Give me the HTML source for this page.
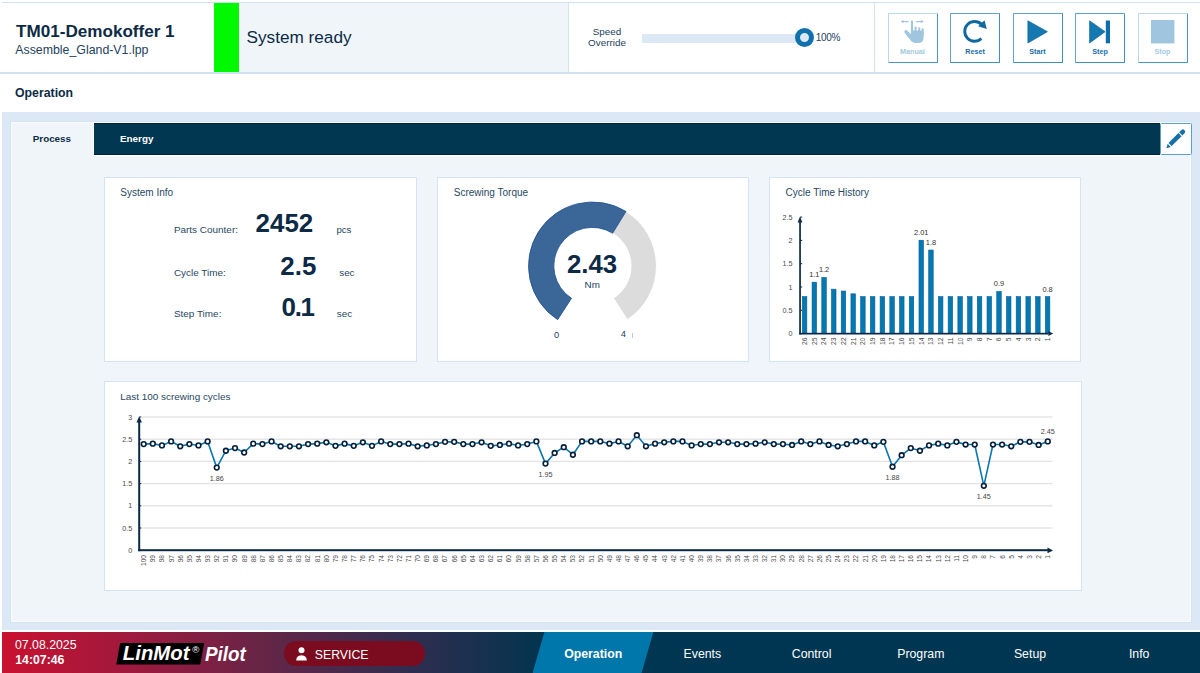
<!DOCTYPE html>
<html><head><meta charset="utf-8"><title>LinMot Pilot</title>
<style>
*{margin:0;padding:0;box-sizing:border-box}
html,body{width:1200px;height:673px;overflow:hidden;background:#fff;font-family:"Liberation Sans",Arial,sans-serif;color:#0c2b47}
.a{position:absolute}
.t{position:absolute;line-height:1;white-space:nowrap}
svg text{font-family:"Liberation Sans",Arial,sans-serif}
</style></head><body>
<div class="a" style="left:2px;top:2px;width:1198px;height:1px;background:#cfe0f1"></div>
<div class="a" style="left:239px;top:3px;width:329px;height:69px;background:#f0f5fa"></div>
<div class="a" style="left:214px;top:3px;width:25px;height:69px;background:#00f800"></div>
<div class="a" style="left:568px;top:3px;width:1px;height:69px;background:#d3e3f3"></div>
<div class="a" style="left:874px;top:3px;width:1px;height:69px;background:#d3e3f3"></div>
<div class="a" style="left:0px;top:72px;width:1200px;height:1.5px;background:#cfe0f1"></div>
<div class="t" style="left:16.00px;top:22.82px;font-size:17.1px;font-weight:bold;color:#0c2a45;">TM01-Demokoffer 1</div>
<div class="t" style="left:15.25px;top:43.75px;font-size:12.35px;color:#1d4160;">Assemble_Gland-V1.lpp</div>
<div class="t" style="left:246.50px;top:29.24px;font-size:17.2px;color:#0c2a45;">System ready</div>
<div class="t" style="left:507.00px;width:200px;text-align:center;top:27.12px;font-size:9.9px;color:#1d4160;">Speed</div>
<div class="t" style="left:507.00px;width:200px;text-align:center;top:38.12px;font-size:9.9px;color:#1d4160;">Override</div>
<div class="a" style="left:641.5px;top:33.5px;width:160px;height:9px;background:#dce8f5"></div>
<div class="a" style="left:795px;top:28.3px;width:19.2px;height:19.2px;border-radius:50%;border:5px solid #0f72ad;background:#dce8f5"></div>
<div class="t" style="left:815.80px;top:32.73px;font-size:10px;color:#1d4160;letter-spacing:-0.3px;">100%</div>
<div class="a" style="left:887.5px;top:12.5px;width:50px;height:50px;border:1.5px solid;border-color:#bcd9ec #4796c9 #4796c9 #bcd9ec;border-radius:1px;background:#fff"></div><svg class="a" style="left:887.5px;top:12.5px" width="50" height="50" viewBox="0 0 50 50"><g transform="translate(-0.45,-0.3)"><g fill="#9fc6de">
<rect x="23.4" y="7.7" width="2.1" height="16" rx="1.05"/>
<rect x="27.0" y="13.8" width="2.0" height="8" rx="1"/>
<rect x="30.7" y="14.6" width="2.0" height="8" rx="1"/>
<rect x="34.1" y="15.5" width="1.9" height="8" rx="0.95"/>
<path d="M23.4,17.8 L36.0,17.8 L36.0,25 Q35.9,30.3 30.5,30.3 L27.6,30.3 Q25.4,30.3 23.8,28.6 L17.2,20.2 Q16.3,18.6 17.4,17.6 Q18.6,16.8 19.8,18 L23.4,21.6 Z"/>
<path d="M13.2,8.9 L15.9,7.3 L15.9,10.5 Z M36.3,8.9 L33.6,7.3 L33.6,10.5 Z"/>
</g>
<g stroke="#9fc6de" stroke-width="1.1" fill="none"><path d="M15,8.9 h6 M28.3,8.9 h6"/></g></g></svg><div class="t" style="left:812.50px;width:200px;text-align:center;top:48.41px;font-size:7.2px;font-weight:bold;color:#a3c9e0;">Manual</div>
<div class="a" style="left:950px;top:12.5px;width:50px;height:50px;border:1.5px solid;border-color:#5fa4d0 #3d8fc6 #3d8fc6 #5fa4d0;border-radius:1px;background:#fff"></div><svg class="a" style="left:950px;top:12.5px" width="50" height="50" viewBox="0 0 50 50"><path d="M31.4,25.6 A9.9,9.9 0 1 1 31.65,11.35" fill="none" stroke="#1168a0" stroke-width="2.9"/>
<path d="M28.1,13.3 L34.5,7.3 L36.8,16.0 Z" fill="#1168a0"/></svg><div class="t" style="left:875.00px;width:200px;text-align:center;top:48.41px;font-size:7.2px;font-weight:bold;color:#1a6ea5;">Reset</div>
<div class="a" style="left:1012.5px;top:12.5px;width:50px;height:50px;border:1.5px solid;border-color:#5fa4d0 #3d8fc6 #3d8fc6 #5fa4d0;border-radius:1px;background:#fff"></div><svg class="a" style="left:1012.5px;top:12.5px" width="50" height="50" viewBox="0 0 50 50"><path d="M14.9,7.8 L34.4,18.7 L14.9,30 Z" fill="#1479b0" stroke="#0b68a6" stroke-width="0.7" stroke-linejoin="round"/></svg><div class="t" style="left:937.50px;width:200px;text-align:center;top:48.41px;font-size:7.2px;font-weight:bold;color:#1a6ea5;">Start</div>
<div class="a" style="left:1075px;top:12.5px;width:50px;height:50px;border:1.5px solid;border-color:#5fa4d0 #3d8fc6 #3d8fc6 #5fa4d0;border-radius:1px;background:#fff"></div><svg class="a" style="left:1075px;top:12.5px" width="50" height="50" viewBox="0 0 50 50"><path d="M14.6,7.8 L30.1,18.7 L14.6,30 Z" fill="#1479b0" stroke="#0b68a6" stroke-width="0.7" stroke-linejoin="round"/><rect x="30.8" y="7.5" width="4.2" height="22.8" fill="#0f6fa8"/></svg><div class="t" style="left:1000.00px;width:200px;text-align:center;top:48.41px;font-size:7.2px;font-weight:bold;color:#1a6ea5;">Step</div>
<div class="a" style="left:1137.5px;top:12.5px;width:50px;height:50px;border:1.5px solid;border-color:#bcd9ec #4796c9 #4796c9 #bcd9ec;border-radius:1px;background:#fff"></div><svg class="a" style="left:1137.5px;top:12.5px" width="50" height="50" viewBox="0 0 50 50"><rect x="13.0" y="7.0" width="23.4" height="23.4" fill="#9fc6de"/></svg><div class="t" style="left:1062.50px;width:200px;text-align:center;top:48.41px;font-size:7.2px;font-weight:bold;color:#a3c9e0;">Stop</div>
<div class="t" style="left:15.00px;top:86.69px;font-size:12.3px;font-weight:bold;color:#0c2a45;">Operation</div>
<div class="a" style="left:1.5px;top:112px;width:1198.5px;height:517.8px;background:#dce8f5"></div>
<div class="a" style="left:9.6px;top:121.3px;width:1182.6px;height:502px;background:#f0f5fa;border:1px solid #d4e3f3;box-shadow:inset 0 0 0 1px #f9fbfd"></div>
<div class="a" style="left:93px;top:122px;width:1068px;height:34px;background:#013751;border:1px solid #fff;box-shadow:inset 0 1px 0 #01223c,inset 0 -1px 0 #01223c"></div>
<div class="t" style="left:32.80px;top:134.30px;font-size:9.8px;font-weight:bold;color:#0c2a45;">Process</div>
<div class="t" style="left:120.00px;top:134.16px;font-size:9.85px;font-weight:bold;color:#fff;">Energy</div>
<div class="a" style="left:1160px;top:123px;width:31.5px;height:32px;background:#fff;border:1px solid #5a9fcc;border-radius:1.5px"></div>
<svg class="a" style="left:1159.5px;top:122.5px" width="33" height="33" viewBox="0 0 33 33">
<g transform="translate(6.4,25.2) rotate(-45)" fill="#1570a6">
<path d="M0,0 L4,-2.2 L4,2.2 Z"/>
<rect x="5.2" y="-2.25" width="14" height="4.5"/>
<path d="M20.3,-2.25 h3 a2.25,2.25 0 0 1 0,4.5 h-3 z"/>
</g></svg>
<div class="a" style="left:104px;top:177px;width:313px;height:185px;background:#fff;border:1px solid #d3e3fa"></div>
<div class="a" style="left:437px;top:177px;width:312px;height:185px;background:#fff;border:1px solid #d3e3fa"></div>
<div class="a" style="left:769px;top:177px;width:312px;height:185px;background:#fff;border:1px solid #d3e3fa"></div>
<div class="a" style="left:104px;top:381px;width:978px;height:210px;background:#fff;border:1px solid #d3e3fa"></div>
<div class="t" style="left:120.30px;top:188.13px;font-size:10px;color:#1f4863;">System Info</div>
<div class="t" style="left:453.80px;top:188.13px;font-size:10px;color:#1f4863;">Screwing Torque</div>
<div class="t" style="left:785.60px;top:188.13px;font-size:10px;color:#1f4863;">Cycle Time History</div>
<div class="t" style="left:120.30px;top:392.00px;font-size:9.92px;color:#1f4863;">Last 100 screwing cycles</div>
<div class="t" style="left:173.90px;top:224.78px;font-size:9.95px;color:#1f4863;">Parts Counter:</div>
<div class="t" style="left:173.90px;top:268.08px;font-size:9.95px;color:#1f4863;">Cycle Time:</div>
<div class="t" style="left:173.90px;top:308.88px;font-size:9.95px;color:#1f4863;">Step Time:</div>
<div class="t" style="left:255.60px;top:211.28px;font-size:25.9px;font-weight:bold;color:#0c2a45;">2452</div>
<div class="t" style="left:280.30px;top:253.68px;font-size:25.9px;font-weight:bold;color:#0c2a45;">2.5</div>
<div class="t" style="left:281.60px;top:295.38px;font-size:25.9px;font-weight:bold;color:#0c2a45;letter-spacing:-1.3px;">0.1</div>
<div class="t" style="left:336.40px;top:224.99px;font-size:9.7px;color:#1f4863;">pcs</div>
<div class="t" style="left:339.20px;top:268.12px;font-size:9.9px;color:#1f4863;">sec</div>
<div class="t" style="left:336.80px;top:308.92px;font-size:9.9px;color:#1f4863;">sec</div>
<div class="a" style="left:0px;top:629.8px;width:1200px;height:2px;background:#f8ffff"></div>
<div class="a" style="left:1.5px;top:631.8px;width:1198.5px;height:41.2px;background:linear-gradient(90deg,#c9112f 0px,#9c1a3e 135px,#622647 270px,#302d4f 405px,#04344f 535px,#003651 560px)"></div>
<div class="a" style="left:532.5px;top:631.8px;width:121px;height:41.2px;background:#0077ab;clip-path:polygon(12px 0,121px 0,109px 100%,0 100%)"></div>
<div class="t" style="left:15.00px;top:639.29px;font-size:12.3px;color:#fff;">07.08.2025</div>
<div class="t" style="left:15.30px;top:654.33px;font-size:12.25px;font-weight:bold;color:#fff;">14:07:46</div>
<div class="a" style="left:116.25px;top:642.5px;width:88px;height:22px;background:#000;clip-path:polygon(4px 0,88px 0,84px 100%,0 100%)"></div>
<div class="t" style="left:122.80px;top:643.37px;font-size:20.35px;font-weight:bold;font-style:italic;color:#fff;">LinMot</div>
<div class="t" style="left:205.00px;top:643.67px;font-size:20px;font-weight:bold;font-style:italic;color:#fff;transform:scaleX(0.94);transform-origin:0 0;">Pilot</div>
<div class="t" style="left:192.3px;top:644.6px;font-size:9.6px;color:#fff">&#174;</div>
<div class="a" style="left:284px;top:641.3px;width:141px;height:24.3px;border-radius:12.2px;background:#7b0c1f"></div>
<svg class="a" style="left:294px;top:645px" width="16" height="17" viewBox="0 0 16 17"><circle cx="7.5" cy="5.2" r="3" fill="#fff"/><path d="M2.2,15.5 q0,-5 5.3,-5.2 q5.3,0.2 5.3,5.2 z" fill="#fff"/></svg>
<div class="t" style="left:314.75px;top:648.69px;font-size:12.3px;color:#fff;">SERVICE</div>
<div class="t" style="left:493.20px;width:200px;text-align:center;top:647.59px;font-size:12.3px;font-weight:bold;color:#fff;">Operation</div>
<div class="t" style="left:602.40px;width:200px;text-align:center;top:647.59px;font-size:12.3px;color:#fff;">Events</div>
<div class="t" style="left:711.60px;width:200px;text-align:center;top:647.59px;font-size:12.3px;color:#fff;">Control</div>
<div class="t" style="left:820.80px;width:200px;text-align:center;top:647.59px;font-size:12.3px;color:#fff;">Program</div>
<div class="t" style="left:930.00px;width:200px;text-align:center;top:647.59px;font-size:12.3px;color:#fff;">Setup</div>
<div class="t" style="left:1039.20px;width:200px;text-align:center;top:647.59px;font-size:12.3px;color:#fff;">Info</div>
<svg class="a" style="left:0;top:0" width="1200" height="673" viewBox="0 0 1200 673">
<path d="M626.04,211.49 A64.0,64.0 0 0 1 627.36,319.67 L613.47,298.29 A38.5,38.5 0 0 0 612.68,233.21 Z" fill="#dcdcdc" stroke="#fff" stroke-width="1"/>
<path d="M557.64,319.67 A64.0,64.0 0 0 1 626.04,211.49 L612.68,233.21 A38.5,38.5 0 0 0 571.53,298.29 Z" fill="#3b6698" stroke="#1c5190" stroke-width="0.8"/>
<text x="592" y="272.6" font-size="25.8" font-weight="bold" fill="#0c2a45" text-anchor="middle">2.43</text>
<text x="592.2" y="288.2" font-size="9.8" fill="#1d4160" text-anchor="middle">Nm</text>
<text x="556.5" y="337.6" font-size="9.3" fill="#1d4160" text-anchor="middle">0</text>
<text x="623.3" y="336.6" font-size="9.3" fill="#1d4160" text-anchor="middle">4</text>
<rect x="632.2" y="333" width="0.8" height="5" fill="#bbb"/>
<text x="792.6" y="336.1" font-size="7.2" fill="#4a4a4a" text-anchor="end">0</text>
<rect x="800.0" y="333.1" width="2.2" height="1" fill="#0c2a45"/>
<text x="792.6" y="312.8" font-size="7.2" fill="#4a4a4a" text-anchor="end">0.5</text>
<rect x="800.0" y="309.8" width="2.2" height="1" fill="#0c2a45"/>
<text x="792.6" y="289.5" font-size="7.2" fill="#4a4a4a" text-anchor="end">1</text>
<rect x="800.0" y="286.5" width="2.2" height="1" fill="#0c2a45"/>
<text x="792.6" y="266.2" font-size="7.2" fill="#4a4a4a" text-anchor="end">1.5</text>
<rect x="800.0" y="263.2" width="2.2" height="1" fill="#0c2a45"/>
<text x="792.6" y="242.9" font-size="7.2" fill="#4a4a4a" text-anchor="end">2</text>
<rect x="800.0" y="239.9" width="2.2" height="1" fill="#0c2a45"/>
<text x="792.6" y="219.6" font-size="7.2" fill="#4a4a4a" text-anchor="end">2.5</text>
<rect x="800.0" y="216.6" width="2.2" height="1" fill="#0c2a45"/>
<rect x="802.35" y="296.62" width="4.5" height="36.98" fill="#0479af" stroke="#035c9c" stroke-width="0.6"/>
<text transform="translate(807,337.4) rotate(-90)" font-size="6.8" fill="#4a4a4a" text-anchor="end">26</text>
<rect x="812.07" y="282.17" width="4.5" height="51.43" fill="#0479af" stroke="#035c9c" stroke-width="0.6"/>
<text transform="translate(816.72,337.4) rotate(-90)" font-size="6.8" fill="#4a4a4a" text-anchor="end">25</text>
<text x="814.32" y="277.07" font-size="7.4" fill="#333" text-anchor="middle">1.1</text>
<rect x="821.79" y="277.51" width="4.5" height="56.09" fill="#0479af" stroke="#035c9c" stroke-width="0.6"/>
<text transform="translate(826.44,337.4) rotate(-90)" font-size="6.8" fill="#4a4a4a" text-anchor="end">24</text>
<text x="824.04" y="272.41" font-size="7.4" fill="#333" text-anchor="middle">1.2</text>
<rect x="831.51" y="289.16" width="4.5" height="44.44" fill="#0479af" stroke="#035c9c" stroke-width="0.6"/>
<text transform="translate(836.16,337.4) rotate(-90)" font-size="6.8" fill="#4a4a4a" text-anchor="end">23</text>
<rect x="841.23" y="291.03" width="4.5" height="42.57" fill="#0479af" stroke="#035c9c" stroke-width="0.6"/>
<text transform="translate(845.88,337.4) rotate(-90)" font-size="6.8" fill="#4a4a4a" text-anchor="end">22</text>
<rect x="850.95" y="293.82" width="4.5" height="39.78" fill="#0479af" stroke="#035c9c" stroke-width="0.6"/>
<text transform="translate(855.6,337.4) rotate(-90)" font-size="6.8" fill="#4a4a4a" text-anchor="end">21</text>
<rect x="860.67" y="296.62" width="4.5" height="36.98" fill="#0479af" stroke="#035c9c" stroke-width="0.6"/>
<text transform="translate(865.32,337.4) rotate(-90)" font-size="6.8" fill="#4a4a4a" text-anchor="end">20</text>
<rect x="870.39" y="296.62" width="4.5" height="36.98" fill="#0479af" stroke="#035c9c" stroke-width="0.6"/>
<text transform="translate(875.04,337.4) rotate(-90)" font-size="6.8" fill="#4a4a4a" text-anchor="end">19</text>
<rect x="880.11" y="296.62" width="4.5" height="36.98" fill="#0479af" stroke="#035c9c" stroke-width="0.6"/>
<text transform="translate(884.76,337.4) rotate(-90)" font-size="6.8" fill="#4a4a4a" text-anchor="end">18</text>
<rect x="889.83" y="296.62" width="4.5" height="36.98" fill="#0479af" stroke="#035c9c" stroke-width="0.6"/>
<text transform="translate(894.48,337.4) rotate(-90)" font-size="6.8" fill="#4a4a4a" text-anchor="end">17</text>
<rect x="899.55" y="296.62" width="4.5" height="36.98" fill="#0479af" stroke="#035c9c" stroke-width="0.6"/>
<text transform="translate(904.2,337.4) rotate(-90)" font-size="6.8" fill="#4a4a4a" text-anchor="end">16</text>
<rect x="909.27" y="296.62" width="4.5" height="36.98" fill="#0479af" stroke="#035c9c" stroke-width="0.6"/>
<text transform="translate(913.92,337.4) rotate(-90)" font-size="6.8" fill="#4a4a4a" text-anchor="end">15</text>
<rect x="918.99" y="240.23" width="4.5" height="93.37" fill="#0479af" stroke="#035c9c" stroke-width="0.6"/>
<text transform="translate(923.64,337.4) rotate(-90)" font-size="6.8" fill="#4a4a4a" text-anchor="end">14</text>
<text x="921.24" y="235.13" font-size="7.4" fill="#333" text-anchor="middle">2.01</text>
<rect x="928.71" y="250.02" width="4.5" height="83.58" fill="#0479af" stroke="#035c9c" stroke-width="0.6"/>
<text transform="translate(933.36,337.4) rotate(-90)" font-size="6.8" fill="#4a4a4a" text-anchor="end">13</text>
<text x="930.96" y="244.92" font-size="7.4" fill="#333" text-anchor="middle">1.8</text>
<rect x="938.43" y="296.62" width="4.5" height="36.98" fill="#0479af" stroke="#035c9c" stroke-width="0.6"/>
<text transform="translate(943.08,337.4) rotate(-90)" font-size="6.8" fill="#4a4a4a" text-anchor="end">12</text>
<rect x="948.15" y="296.62" width="4.5" height="36.98" fill="#0479af" stroke="#035c9c" stroke-width="0.6"/>
<text transform="translate(952.8,337.4) rotate(-90)" font-size="6.8" fill="#4a4a4a" text-anchor="end">11</text>
<rect x="957.87" y="296.62" width="4.5" height="36.98" fill="#0479af" stroke="#035c9c" stroke-width="0.6"/>
<text transform="translate(962.52,337.4) rotate(-90)" font-size="6.8" fill="#4a4a4a" text-anchor="end">10</text>
<rect x="967.59" y="296.62" width="4.5" height="36.98" fill="#0479af" stroke="#035c9c" stroke-width="0.6"/>
<text transform="translate(972.24,337.4) rotate(-90)" font-size="6.8" fill="#4a4a4a" text-anchor="end">9</text>
<rect x="977.31" y="296.62" width="4.5" height="36.98" fill="#0479af" stroke="#035c9c" stroke-width="0.6"/>
<text transform="translate(981.96,337.4) rotate(-90)" font-size="6.8" fill="#4a4a4a" text-anchor="end">8</text>
<rect x="987.03" y="296.62" width="4.5" height="36.98" fill="#0479af" stroke="#035c9c" stroke-width="0.6"/>
<text transform="translate(991.68,337.4) rotate(-90)" font-size="6.8" fill="#4a4a4a" text-anchor="end">7</text>
<rect x="996.75" y="291.49" width="4.5" height="42.11" fill="#0479af" stroke="#035c9c" stroke-width="0.6"/>
<text transform="translate(1001.4,337.4) rotate(-90)" font-size="6.8" fill="#4a4a4a" text-anchor="end">6</text>
<text x="999" y="286.39" font-size="7.4" fill="#333" text-anchor="middle">0.9</text>
<rect x="1006.47" y="296.62" width="4.5" height="36.98" fill="#0479af" stroke="#035c9c" stroke-width="0.6"/>
<text transform="translate(1011.12,337.4) rotate(-90)" font-size="6.8" fill="#4a4a4a" text-anchor="end">5</text>
<rect x="1016.19" y="296.62" width="4.5" height="36.98" fill="#0479af" stroke="#035c9c" stroke-width="0.6"/>
<text transform="translate(1020.84,337.4) rotate(-90)" font-size="6.8" fill="#4a4a4a" text-anchor="end">4</text>
<rect x="1025.91" y="296.62" width="4.5" height="36.98" fill="#0479af" stroke="#035c9c" stroke-width="0.6"/>
<text transform="translate(1030.56,337.4) rotate(-90)" font-size="6.8" fill="#4a4a4a" text-anchor="end">3</text>
<rect x="1035.63" y="296.62" width="4.5" height="36.98" fill="#0479af" stroke="#035c9c" stroke-width="0.6"/>
<text transform="translate(1040.28,337.4) rotate(-90)" font-size="6.8" fill="#4a4a4a" text-anchor="end">2</text>
<rect x="1045.35" y="296.62" width="4.5" height="36.98" fill="#0479af" stroke="#035c9c" stroke-width="0.6"/>
<text transform="translate(1050,337.4) rotate(-90)" font-size="6.8" fill="#4a4a4a" text-anchor="end">1</text>
<text x="1047.6" y="291.52" font-size="7.4" fill="#333" text-anchor="middle">0.8</text>
<rect x="799.2" y="221" width="1.7" height="113.4" fill="#0c2a45"/>
<path d="M800.0,216.6 L802.4,222.6 L797.6,222.6 Z" fill="#0c2a45"/>
<rect x="799.2" y="332.8" width="249" height="1.7" fill="#0c2a45"/>
<path d="M1053.2,333.6 L1048.4,331.2 L1048.4,336 Z" fill="#0c2a45"/>
<rect x="142.5" y="527.3" width="910" height="1.4" fill="#e4e4e4"/>
<rect x="142.5" y="505.1" width="910" height="1.4" fill="#e4e4e4"/>
<rect x="142.5" y="482.9" width="910" height="1.4" fill="#e4e4e4"/>
<rect x="142.5" y="460.7" width="910" height="1.4" fill="#e4e4e4"/>
<rect x="142.5" y="438.5" width="910" height="1.4" fill="#e4e4e4"/>
<rect x="142.5" y="416.3" width="910" height="1.4" fill="#e4e4e4"/>
<text x="132.2" y="552.7" font-size="7.2" fill="#4a4a4a" text-anchor="end">0</text>
<rect x="139.2" y="549.7" width="2.2" height="1" fill="#0c2a45"/>
<text x="132.2" y="530.5" font-size="7.2" fill="#4a4a4a" text-anchor="end">0.5</text>
<rect x="139.2" y="527.5" width="2.2" height="1" fill="#0c2a45"/>
<text x="132.2" y="508.3" font-size="7.2" fill="#4a4a4a" text-anchor="end">1</text>
<rect x="139.2" y="505.3" width="2.2" height="1" fill="#0c2a45"/>
<text x="132.2" y="486.1" font-size="7.2" fill="#4a4a4a" text-anchor="end">1.5</text>
<rect x="139.2" y="483.1" width="2.2" height="1" fill="#0c2a45"/>
<text x="132.2" y="463.9" font-size="7.2" fill="#4a4a4a" text-anchor="end">2</text>
<rect x="139.2" y="460.9" width="2.2" height="1" fill="#0c2a45"/>
<text x="132.2" y="441.7" font-size="7.2" fill="#4a4a4a" text-anchor="end">2.5</text>
<rect x="139.2" y="438.7" width="2.2" height="1" fill="#0c2a45"/>
<text x="132.2" y="419.5" font-size="7.2" fill="#4a4a4a" text-anchor="end">3</text>
<rect x="139.2" y="416.5" width="2.2" height="1" fill="#0c2a45"/>
<text transform="translate(146.1,555) rotate(-90)" font-size="6.6" fill="#4a4a4a" text-anchor="end">100</text>
<text transform="translate(155.23,555) rotate(-90)" font-size="6.6" fill="#4a4a4a" text-anchor="end">99</text>
<text transform="translate(164.36,555) rotate(-90)" font-size="6.6" fill="#4a4a4a" text-anchor="end">98</text>
<text transform="translate(173.5,555) rotate(-90)" font-size="6.6" fill="#4a4a4a" text-anchor="end">97</text>
<text transform="translate(182.63,555) rotate(-90)" font-size="6.6" fill="#4a4a4a" text-anchor="end">96</text>
<text transform="translate(191.76,555) rotate(-90)" font-size="6.6" fill="#4a4a4a" text-anchor="end">95</text>
<text transform="translate(200.89,555) rotate(-90)" font-size="6.6" fill="#4a4a4a" text-anchor="end">94</text>
<text transform="translate(210.02,555) rotate(-90)" font-size="6.6" fill="#4a4a4a" text-anchor="end">93</text>
<text transform="translate(219.16,555) rotate(-90)" font-size="6.6" fill="#4a4a4a" text-anchor="end">92</text>
<text transform="translate(228.29,555) rotate(-90)" font-size="6.6" fill="#4a4a4a" text-anchor="end">91</text>
<text transform="translate(237.42,555) rotate(-90)" font-size="6.6" fill="#4a4a4a" text-anchor="end">90</text>
<text transform="translate(246.55,555) rotate(-90)" font-size="6.6" fill="#4a4a4a" text-anchor="end">89</text>
<text transform="translate(255.68,555) rotate(-90)" font-size="6.6" fill="#4a4a4a" text-anchor="end">88</text>
<text transform="translate(264.82,555) rotate(-90)" font-size="6.6" fill="#4a4a4a" text-anchor="end">87</text>
<text transform="translate(273.95,555) rotate(-90)" font-size="6.6" fill="#4a4a4a" text-anchor="end">86</text>
<text transform="translate(283.08,555) rotate(-90)" font-size="6.6" fill="#4a4a4a" text-anchor="end">85</text>
<text transform="translate(292.21,555) rotate(-90)" font-size="6.6" fill="#4a4a4a" text-anchor="end">84</text>
<text transform="translate(301.34,555) rotate(-90)" font-size="6.6" fill="#4a4a4a" text-anchor="end">83</text>
<text transform="translate(310.48,555) rotate(-90)" font-size="6.6" fill="#4a4a4a" text-anchor="end">82</text>
<text transform="translate(319.61,555) rotate(-90)" font-size="6.6" fill="#4a4a4a" text-anchor="end">81</text>
<text transform="translate(328.74,555) rotate(-90)" font-size="6.6" fill="#4a4a4a" text-anchor="end">80</text>
<text transform="translate(337.87,555) rotate(-90)" font-size="6.6" fill="#4a4a4a" text-anchor="end">79</text>
<text transform="translate(347,555) rotate(-90)" font-size="6.6" fill="#4a4a4a" text-anchor="end">78</text>
<text transform="translate(356.14,555) rotate(-90)" font-size="6.6" fill="#4a4a4a" text-anchor="end">77</text>
<text transform="translate(365.27,555) rotate(-90)" font-size="6.6" fill="#4a4a4a" text-anchor="end">76</text>
<text transform="translate(374.4,555) rotate(-90)" font-size="6.6" fill="#4a4a4a" text-anchor="end">75</text>
<text transform="translate(383.53,555) rotate(-90)" font-size="6.6" fill="#4a4a4a" text-anchor="end">74</text>
<text transform="translate(392.66,555) rotate(-90)" font-size="6.6" fill="#4a4a4a" text-anchor="end">73</text>
<text transform="translate(401.8,555) rotate(-90)" font-size="6.6" fill="#4a4a4a" text-anchor="end">72</text>
<text transform="translate(410.93,555) rotate(-90)" font-size="6.6" fill="#4a4a4a" text-anchor="end">71</text>
<text transform="translate(420.06,555) rotate(-90)" font-size="6.6" fill="#4a4a4a" text-anchor="end">70</text>
<text transform="translate(429.19,555) rotate(-90)" font-size="6.6" fill="#4a4a4a" text-anchor="end">69</text>
<text transform="translate(438.32,555) rotate(-90)" font-size="6.6" fill="#4a4a4a" text-anchor="end">68</text>
<text transform="translate(447.46,555) rotate(-90)" font-size="6.6" fill="#4a4a4a" text-anchor="end">67</text>
<text transform="translate(456.59,555) rotate(-90)" font-size="6.6" fill="#4a4a4a" text-anchor="end">66</text>
<text transform="translate(465.72,555) rotate(-90)" font-size="6.6" fill="#4a4a4a" text-anchor="end">65</text>
<text transform="translate(474.85,555) rotate(-90)" font-size="6.6" fill="#4a4a4a" text-anchor="end">64</text>
<text transform="translate(483.98,555) rotate(-90)" font-size="6.6" fill="#4a4a4a" text-anchor="end">63</text>
<text transform="translate(493.12,555) rotate(-90)" font-size="6.6" fill="#4a4a4a" text-anchor="end">62</text>
<text transform="translate(502.25,555) rotate(-90)" font-size="6.6" fill="#4a4a4a" text-anchor="end">61</text>
<text transform="translate(511.38,555) rotate(-90)" font-size="6.6" fill="#4a4a4a" text-anchor="end">60</text>
<text transform="translate(520.51,555) rotate(-90)" font-size="6.6" fill="#4a4a4a" text-anchor="end">59</text>
<text transform="translate(529.64,555) rotate(-90)" font-size="6.6" fill="#4a4a4a" text-anchor="end">58</text>
<text transform="translate(538.78,555) rotate(-90)" font-size="6.6" fill="#4a4a4a" text-anchor="end">57</text>
<text transform="translate(547.91,555) rotate(-90)" font-size="6.6" fill="#4a4a4a" text-anchor="end">56</text>
<text transform="translate(557.04,555) rotate(-90)" font-size="6.6" fill="#4a4a4a" text-anchor="end">55</text>
<text transform="translate(566.17,555) rotate(-90)" font-size="6.6" fill="#4a4a4a" text-anchor="end">54</text>
<text transform="translate(575.3,555) rotate(-90)" font-size="6.6" fill="#4a4a4a" text-anchor="end">53</text>
<text transform="translate(584.44,555) rotate(-90)" font-size="6.6" fill="#4a4a4a" text-anchor="end">52</text>
<text transform="translate(593.57,555) rotate(-90)" font-size="6.6" fill="#4a4a4a" text-anchor="end">51</text>
<text transform="translate(602.7,555) rotate(-90)" font-size="6.6" fill="#4a4a4a" text-anchor="end">50</text>
<text transform="translate(611.83,555) rotate(-90)" font-size="6.6" fill="#4a4a4a" text-anchor="end">49</text>
<text transform="translate(620.96,555) rotate(-90)" font-size="6.6" fill="#4a4a4a" text-anchor="end">48</text>
<text transform="translate(630.1,555) rotate(-90)" font-size="6.6" fill="#4a4a4a" text-anchor="end">47</text>
<text transform="translate(639.23,555) rotate(-90)" font-size="6.6" fill="#4a4a4a" text-anchor="end">46</text>
<text transform="translate(648.36,555) rotate(-90)" font-size="6.6" fill="#4a4a4a" text-anchor="end">45</text>
<text transform="translate(657.49,555) rotate(-90)" font-size="6.6" fill="#4a4a4a" text-anchor="end">44</text>
<text transform="translate(666.62,555) rotate(-90)" font-size="6.6" fill="#4a4a4a" text-anchor="end">43</text>
<text transform="translate(675.76,555) rotate(-90)" font-size="6.6" fill="#4a4a4a" text-anchor="end">42</text>
<text transform="translate(684.89,555) rotate(-90)" font-size="6.6" fill="#4a4a4a" text-anchor="end">41</text>
<text transform="translate(694.02,555) rotate(-90)" font-size="6.6" fill="#4a4a4a" text-anchor="end">40</text>
<text transform="translate(703.15,555) rotate(-90)" font-size="6.6" fill="#4a4a4a" text-anchor="end">39</text>
<text transform="translate(712.28,555) rotate(-90)" font-size="6.6" fill="#4a4a4a" text-anchor="end">38</text>
<text transform="translate(721.42,555) rotate(-90)" font-size="6.6" fill="#4a4a4a" text-anchor="end">37</text>
<text transform="translate(730.55,555) rotate(-90)" font-size="6.6" fill="#4a4a4a" text-anchor="end">36</text>
<text transform="translate(739.68,555) rotate(-90)" font-size="6.6" fill="#4a4a4a" text-anchor="end">35</text>
<text transform="translate(748.81,555) rotate(-90)" font-size="6.6" fill="#4a4a4a" text-anchor="end">34</text>
<text transform="translate(757.94,555) rotate(-90)" font-size="6.6" fill="#4a4a4a" text-anchor="end">33</text>
<text transform="translate(767.08,555) rotate(-90)" font-size="6.6" fill="#4a4a4a" text-anchor="end">32</text>
<text transform="translate(776.21,555) rotate(-90)" font-size="6.6" fill="#4a4a4a" text-anchor="end">31</text>
<text transform="translate(785.34,555) rotate(-90)" font-size="6.6" fill="#4a4a4a" text-anchor="end">30</text>
<text transform="translate(794.47,555) rotate(-90)" font-size="6.6" fill="#4a4a4a" text-anchor="end">29</text>
<text transform="translate(803.6,555) rotate(-90)" font-size="6.6" fill="#4a4a4a" text-anchor="end">28</text>
<text transform="translate(812.74,555) rotate(-90)" font-size="6.6" fill="#4a4a4a" text-anchor="end">27</text>
<text transform="translate(821.87,555) rotate(-90)" font-size="6.6" fill="#4a4a4a" text-anchor="end">26</text>
<text transform="translate(831,555) rotate(-90)" font-size="6.6" fill="#4a4a4a" text-anchor="end">25</text>
<text transform="translate(840.13,555) rotate(-90)" font-size="6.6" fill="#4a4a4a" text-anchor="end">24</text>
<text transform="translate(849.26,555) rotate(-90)" font-size="6.6" fill="#4a4a4a" text-anchor="end">23</text>
<text transform="translate(858.4,555) rotate(-90)" font-size="6.6" fill="#4a4a4a" text-anchor="end">22</text>
<text transform="translate(867.53,555) rotate(-90)" font-size="6.6" fill="#4a4a4a" text-anchor="end">21</text>
<text transform="translate(876.66,555) rotate(-90)" font-size="6.6" fill="#4a4a4a" text-anchor="end">20</text>
<text transform="translate(885.79,555) rotate(-90)" font-size="6.6" fill="#4a4a4a" text-anchor="end">19</text>
<text transform="translate(894.92,555) rotate(-90)" font-size="6.6" fill="#4a4a4a" text-anchor="end">18</text>
<text transform="translate(904.06,555) rotate(-90)" font-size="6.6" fill="#4a4a4a" text-anchor="end">17</text>
<text transform="translate(913.19,555) rotate(-90)" font-size="6.6" fill="#4a4a4a" text-anchor="end">16</text>
<text transform="translate(922.32,555) rotate(-90)" font-size="6.6" fill="#4a4a4a" text-anchor="end">15</text>
<text transform="translate(931.45,555) rotate(-90)" font-size="6.6" fill="#4a4a4a" text-anchor="end">14</text>
<text transform="translate(940.58,555) rotate(-90)" font-size="6.6" fill="#4a4a4a" text-anchor="end">13</text>
<text transform="translate(949.72,555) rotate(-90)" font-size="6.6" fill="#4a4a4a" text-anchor="end">12</text>
<text transform="translate(958.85,555) rotate(-90)" font-size="6.6" fill="#4a4a4a" text-anchor="end">11</text>
<text transform="translate(967.98,555) rotate(-90)" font-size="6.6" fill="#4a4a4a" text-anchor="end">10</text>
<text transform="translate(977.11,555) rotate(-90)" font-size="6.6" fill="#4a4a4a" text-anchor="end">9</text>
<text transform="translate(986.24,555) rotate(-90)" font-size="6.6" fill="#4a4a4a" text-anchor="end">8</text>
<text transform="translate(995.38,555) rotate(-90)" font-size="6.6" fill="#4a4a4a" text-anchor="end">7</text>
<text transform="translate(1004.51,555) rotate(-90)" font-size="6.6" fill="#4a4a4a" text-anchor="end">6</text>
<text transform="translate(1013.64,555) rotate(-90)" font-size="6.6" fill="#4a4a4a" text-anchor="end">5</text>
<text transform="translate(1022.77,555) rotate(-90)" font-size="6.6" fill="#4a4a4a" text-anchor="end">4</text>
<text transform="translate(1031.9,555) rotate(-90)" font-size="6.6" fill="#4a4a4a" text-anchor="end">3</text>
<text transform="translate(1041.04,555) rotate(-90)" font-size="6.6" fill="#4a4a4a" text-anchor="end">2</text>
<text transform="translate(1050.17,555) rotate(-90)" font-size="6.6" fill="#4a4a4a" text-anchor="end">1</text>
<rect x="138.2" y="421" width="2" height="130.2" fill="#0c2a45"/>
<path d="M139.2,416.3 L141.89999999999998,422.6 L136.5,422.6 Z" fill="#0c2a45"/>
<rect x="138.2" y="549.2" width="910.3" height="2" fill="#0c2a45"/>
<path d="M1053,550.4 L1047.5,547.6 L1047.5,553.2 Z" fill="#0c2a45"/>
<polyline points="143.7,444.08 152.83,443.64 161.96,445.42 171.1,441.42 180.23,446.3 189.36,444.08 198.49,445.42 207.62,441.42 216.76,467.62 225.89,450.74 235.02,448.08 244.15,452.52 253.28,443.64 262.42,444.08 271.55,441.42 280.68,446.3 289.81,446.3 298.94,446.3 308.08,444.08 317.21,443.64 326.34,442.31 335.47,445.86 344.6,443.64 353.74,445.86 362.87,442.31 372,445.86 381.13,441.42 390.26,444.08 399.4,444.08 408.53,443.64 417.66,446.3 426.79,445.42 435.92,444.08 445.06,441.86 454.19,441.86 463.32,444.08 472.45,444.08 481.58,442.31 490.72,445.86 499.85,444.97 508.98,443.64 518.11,445.42 527.24,444.08 536.38,441.42 545.51,463.62 554.64,452.96 563.77,447.19 572.9,454.74 582.04,441.42 591.17,441.42 600.3,441.42 609.43,443.64 618.56,441.42 627.7,446.3 636.83,435.2 645.96,446.3 655.09,443.64 664.22,442.31 673.36,441.42 682.49,441.42 691.62,445.42 700.75,444.08 709.88,444.08 719.02,442.31 728.15,442.31 737.28,444.08 746.41,444.08 755.54,443.64 764.68,442.31 773.81,444.08 782.94,444.08 792.07,444.97 801.2,441.42 810.34,444.08 819.47,441.42 828.6,444.97 837.73,446.3 846.86,444.08 856,441.42 865.13,441.42 874.26,445.42 883.39,441.86 892.52,466.73 901.66,455.18 910.79,448.08 919.92,450.74 929.05,445.42 938.18,443.64 947.32,445.42 956.45,441.86 965.58,444.53 974.71,444.53 983.84,485.82 992.98,444.53 1002.11,444.53 1011.24,446.3 1020.37,441.86 1029.5,441.86 1038.64,444.97 1047.77,441.42" fill="none" stroke="#0a77b0" stroke-width="1.6" stroke-linejoin="round"/>
<circle cx="143.7" cy="444.08" r="2.35" fill="#fff" stroke="#071f38" stroke-width="1.6"/>
<circle cx="152.83" cy="443.64" r="2.35" fill="#fff" stroke="#071f38" stroke-width="1.6"/>
<circle cx="161.96" cy="445.42" r="2.35" fill="#fff" stroke="#071f38" stroke-width="1.6"/>
<circle cx="171.1" cy="441.42" r="2.35" fill="#fff" stroke="#071f38" stroke-width="1.6"/>
<circle cx="180.23" cy="446.3" r="2.35" fill="#fff" stroke="#071f38" stroke-width="1.6"/>
<circle cx="189.36" cy="444.08" r="2.35" fill="#fff" stroke="#071f38" stroke-width="1.6"/>
<circle cx="198.49" cy="445.42" r="2.35" fill="#fff" stroke="#071f38" stroke-width="1.6"/>
<circle cx="207.62" cy="441.42" r="2.35" fill="#fff" stroke="#071f38" stroke-width="1.6"/>
<circle cx="216.76" cy="467.62" r="2.35" fill="#fff" stroke="#071f38" stroke-width="1.6"/>
<circle cx="225.89" cy="450.74" r="2.35" fill="#fff" stroke="#071f38" stroke-width="1.6"/>
<circle cx="235.02" cy="448.08" r="2.35" fill="#fff" stroke="#071f38" stroke-width="1.6"/>
<circle cx="244.15" cy="452.52" r="2.35" fill="#fff" stroke="#071f38" stroke-width="1.6"/>
<circle cx="253.28" cy="443.64" r="2.35" fill="#fff" stroke="#071f38" stroke-width="1.6"/>
<circle cx="262.42" cy="444.08" r="2.35" fill="#fff" stroke="#071f38" stroke-width="1.6"/>
<circle cx="271.55" cy="441.42" r="2.35" fill="#fff" stroke="#071f38" stroke-width="1.6"/>
<circle cx="280.68" cy="446.3" r="2.35" fill="#fff" stroke="#071f38" stroke-width="1.6"/>
<circle cx="289.81" cy="446.3" r="2.35" fill="#fff" stroke="#071f38" stroke-width="1.6"/>
<circle cx="298.94" cy="446.3" r="2.35" fill="#fff" stroke="#071f38" stroke-width="1.6"/>
<circle cx="308.08" cy="444.08" r="2.35" fill="#fff" stroke="#071f38" stroke-width="1.6"/>
<circle cx="317.21" cy="443.64" r="2.35" fill="#fff" stroke="#071f38" stroke-width="1.6"/>
<circle cx="326.34" cy="442.31" r="2.35" fill="#fff" stroke="#071f38" stroke-width="1.6"/>
<circle cx="335.47" cy="445.86" r="2.35" fill="#fff" stroke="#071f38" stroke-width="1.6"/>
<circle cx="344.6" cy="443.64" r="2.35" fill="#fff" stroke="#071f38" stroke-width="1.6"/>
<circle cx="353.74" cy="445.86" r="2.35" fill="#fff" stroke="#071f38" stroke-width="1.6"/>
<circle cx="362.87" cy="442.31" r="2.35" fill="#fff" stroke="#071f38" stroke-width="1.6"/>
<circle cx="372" cy="445.86" r="2.35" fill="#fff" stroke="#071f38" stroke-width="1.6"/>
<circle cx="381.13" cy="441.42" r="2.35" fill="#fff" stroke="#071f38" stroke-width="1.6"/>
<circle cx="390.26" cy="444.08" r="2.35" fill="#fff" stroke="#071f38" stroke-width="1.6"/>
<circle cx="399.4" cy="444.08" r="2.35" fill="#fff" stroke="#071f38" stroke-width="1.6"/>
<circle cx="408.53" cy="443.64" r="2.35" fill="#fff" stroke="#071f38" stroke-width="1.6"/>
<circle cx="417.66" cy="446.3" r="2.35" fill="#fff" stroke="#071f38" stroke-width="1.6"/>
<circle cx="426.79" cy="445.42" r="2.35" fill="#fff" stroke="#071f38" stroke-width="1.6"/>
<circle cx="435.92" cy="444.08" r="2.35" fill="#fff" stroke="#071f38" stroke-width="1.6"/>
<circle cx="445.06" cy="441.86" r="2.35" fill="#fff" stroke="#071f38" stroke-width="1.6"/>
<circle cx="454.19" cy="441.86" r="2.35" fill="#fff" stroke="#071f38" stroke-width="1.6"/>
<circle cx="463.32" cy="444.08" r="2.35" fill="#fff" stroke="#071f38" stroke-width="1.6"/>
<circle cx="472.45" cy="444.08" r="2.35" fill="#fff" stroke="#071f38" stroke-width="1.6"/>
<circle cx="481.58" cy="442.31" r="2.35" fill="#fff" stroke="#071f38" stroke-width="1.6"/>
<circle cx="490.72" cy="445.86" r="2.35" fill="#fff" stroke="#071f38" stroke-width="1.6"/>
<circle cx="499.85" cy="444.97" r="2.35" fill="#fff" stroke="#071f38" stroke-width="1.6"/>
<circle cx="508.98" cy="443.64" r="2.35" fill="#fff" stroke="#071f38" stroke-width="1.6"/>
<circle cx="518.11" cy="445.42" r="2.35" fill="#fff" stroke="#071f38" stroke-width="1.6"/>
<circle cx="527.24" cy="444.08" r="2.35" fill="#fff" stroke="#071f38" stroke-width="1.6"/>
<circle cx="536.38" cy="441.42" r="2.35" fill="#fff" stroke="#071f38" stroke-width="1.6"/>
<circle cx="545.51" cy="463.62" r="2.35" fill="#fff" stroke="#071f38" stroke-width="1.6"/>
<circle cx="554.64" cy="452.96" r="2.35" fill="#fff" stroke="#071f38" stroke-width="1.6"/>
<circle cx="563.77" cy="447.19" r="2.35" fill="#fff" stroke="#071f38" stroke-width="1.6"/>
<circle cx="572.9" cy="454.74" r="2.35" fill="#fff" stroke="#071f38" stroke-width="1.6"/>
<circle cx="582.04" cy="441.42" r="2.35" fill="#fff" stroke="#071f38" stroke-width="1.6"/>
<circle cx="591.17" cy="441.42" r="2.35" fill="#fff" stroke="#071f38" stroke-width="1.6"/>
<circle cx="600.3" cy="441.42" r="2.35" fill="#fff" stroke="#071f38" stroke-width="1.6"/>
<circle cx="609.43" cy="443.64" r="2.35" fill="#fff" stroke="#071f38" stroke-width="1.6"/>
<circle cx="618.56" cy="441.42" r="2.35" fill="#fff" stroke="#071f38" stroke-width="1.6"/>
<circle cx="627.7" cy="446.3" r="2.35" fill="#fff" stroke="#071f38" stroke-width="1.6"/>
<circle cx="636.83" cy="435.2" r="2.35" fill="#fff" stroke="#071f38" stroke-width="1.6"/>
<circle cx="645.96" cy="446.3" r="2.35" fill="#fff" stroke="#071f38" stroke-width="1.6"/>
<circle cx="655.09" cy="443.64" r="2.35" fill="#fff" stroke="#071f38" stroke-width="1.6"/>
<circle cx="664.22" cy="442.31" r="2.35" fill="#fff" stroke="#071f38" stroke-width="1.6"/>
<circle cx="673.36" cy="441.42" r="2.35" fill="#fff" stroke="#071f38" stroke-width="1.6"/>
<circle cx="682.49" cy="441.42" r="2.35" fill="#fff" stroke="#071f38" stroke-width="1.6"/>
<circle cx="691.62" cy="445.42" r="2.35" fill="#fff" stroke="#071f38" stroke-width="1.6"/>
<circle cx="700.75" cy="444.08" r="2.35" fill="#fff" stroke="#071f38" stroke-width="1.6"/>
<circle cx="709.88" cy="444.08" r="2.35" fill="#fff" stroke="#071f38" stroke-width="1.6"/>
<circle cx="719.02" cy="442.31" r="2.35" fill="#fff" stroke="#071f38" stroke-width="1.6"/>
<circle cx="728.15" cy="442.31" r="2.35" fill="#fff" stroke="#071f38" stroke-width="1.6"/>
<circle cx="737.28" cy="444.08" r="2.35" fill="#fff" stroke="#071f38" stroke-width="1.6"/>
<circle cx="746.41" cy="444.08" r="2.35" fill="#fff" stroke="#071f38" stroke-width="1.6"/>
<circle cx="755.54" cy="443.64" r="2.35" fill="#fff" stroke="#071f38" stroke-width="1.6"/>
<circle cx="764.68" cy="442.31" r="2.35" fill="#fff" stroke="#071f38" stroke-width="1.6"/>
<circle cx="773.81" cy="444.08" r="2.35" fill="#fff" stroke="#071f38" stroke-width="1.6"/>
<circle cx="782.94" cy="444.08" r="2.35" fill="#fff" stroke="#071f38" stroke-width="1.6"/>
<circle cx="792.07" cy="444.97" r="2.35" fill="#fff" stroke="#071f38" stroke-width="1.6"/>
<circle cx="801.2" cy="441.42" r="2.35" fill="#fff" stroke="#071f38" stroke-width="1.6"/>
<circle cx="810.34" cy="444.08" r="2.35" fill="#fff" stroke="#071f38" stroke-width="1.6"/>
<circle cx="819.47" cy="441.42" r="2.35" fill="#fff" stroke="#071f38" stroke-width="1.6"/>
<circle cx="828.6" cy="444.97" r="2.35" fill="#fff" stroke="#071f38" stroke-width="1.6"/>
<circle cx="837.73" cy="446.3" r="2.35" fill="#fff" stroke="#071f38" stroke-width="1.6"/>
<circle cx="846.86" cy="444.08" r="2.35" fill="#fff" stroke="#071f38" stroke-width="1.6"/>
<circle cx="856" cy="441.42" r="2.35" fill="#fff" stroke="#071f38" stroke-width="1.6"/>
<circle cx="865.13" cy="441.42" r="2.35" fill="#fff" stroke="#071f38" stroke-width="1.6"/>
<circle cx="874.26" cy="445.42" r="2.35" fill="#fff" stroke="#071f38" stroke-width="1.6"/>
<circle cx="883.39" cy="441.86" r="2.35" fill="#fff" stroke="#071f38" stroke-width="1.6"/>
<circle cx="892.52" cy="466.73" r="2.35" fill="#fff" stroke="#071f38" stroke-width="1.6"/>
<circle cx="901.66" cy="455.18" r="2.35" fill="#fff" stroke="#071f38" stroke-width="1.6"/>
<circle cx="910.79" cy="448.08" r="2.35" fill="#fff" stroke="#071f38" stroke-width="1.6"/>
<circle cx="919.92" cy="450.74" r="2.35" fill="#fff" stroke="#071f38" stroke-width="1.6"/>
<circle cx="929.05" cy="445.42" r="2.35" fill="#fff" stroke="#071f38" stroke-width="1.6"/>
<circle cx="938.18" cy="443.64" r="2.35" fill="#fff" stroke="#071f38" stroke-width="1.6"/>
<circle cx="947.32" cy="445.42" r="2.35" fill="#fff" stroke="#071f38" stroke-width="1.6"/>
<circle cx="956.45" cy="441.86" r="2.35" fill="#fff" stroke="#071f38" stroke-width="1.6"/>
<circle cx="965.58" cy="444.53" r="2.35" fill="#fff" stroke="#071f38" stroke-width="1.6"/>
<circle cx="974.71" cy="444.53" r="2.35" fill="#fff" stroke="#071f38" stroke-width="1.6"/>
<circle cx="983.84" cy="485.82" r="2.35" fill="#fff" stroke="#071f38" stroke-width="1.6"/>
<circle cx="992.98" cy="444.53" r="2.35" fill="#fff" stroke="#071f38" stroke-width="1.6"/>
<circle cx="1002.11" cy="444.53" r="2.35" fill="#fff" stroke="#071f38" stroke-width="1.6"/>
<circle cx="1011.24" cy="446.3" r="2.35" fill="#fff" stroke="#071f38" stroke-width="1.6"/>
<circle cx="1020.37" cy="441.86" r="2.35" fill="#fff" stroke="#071f38" stroke-width="1.6"/>
<circle cx="1029.5" cy="441.86" r="2.35" fill="#fff" stroke="#071f38" stroke-width="1.6"/>
<circle cx="1038.64" cy="444.97" r="2.35" fill="#fff" stroke="#071f38" stroke-width="1.6"/>
<circle cx="1047.77" cy="441.42" r="2.35" fill="#fff" stroke="#071f38" stroke-width="1.6"/>
<text x="216.76" y="481.22" font-size="7.2" fill="#444" text-anchor="middle">1.86</text>
<text x="545.51" y="477.22" font-size="7.2" fill="#444" text-anchor="middle">1.95</text>
<text x="892.52" y="480.33" font-size="7.2" fill="#444" text-anchor="middle">1.88</text>
<text x="983.84" y="499.42" font-size="7.2" fill="#444" text-anchor="middle">1.45</text>
<text x="1047.77" y="434.02" font-size="7.2" fill="#444" text-anchor="middle">2.45</text>
</svg>
</body></html>
